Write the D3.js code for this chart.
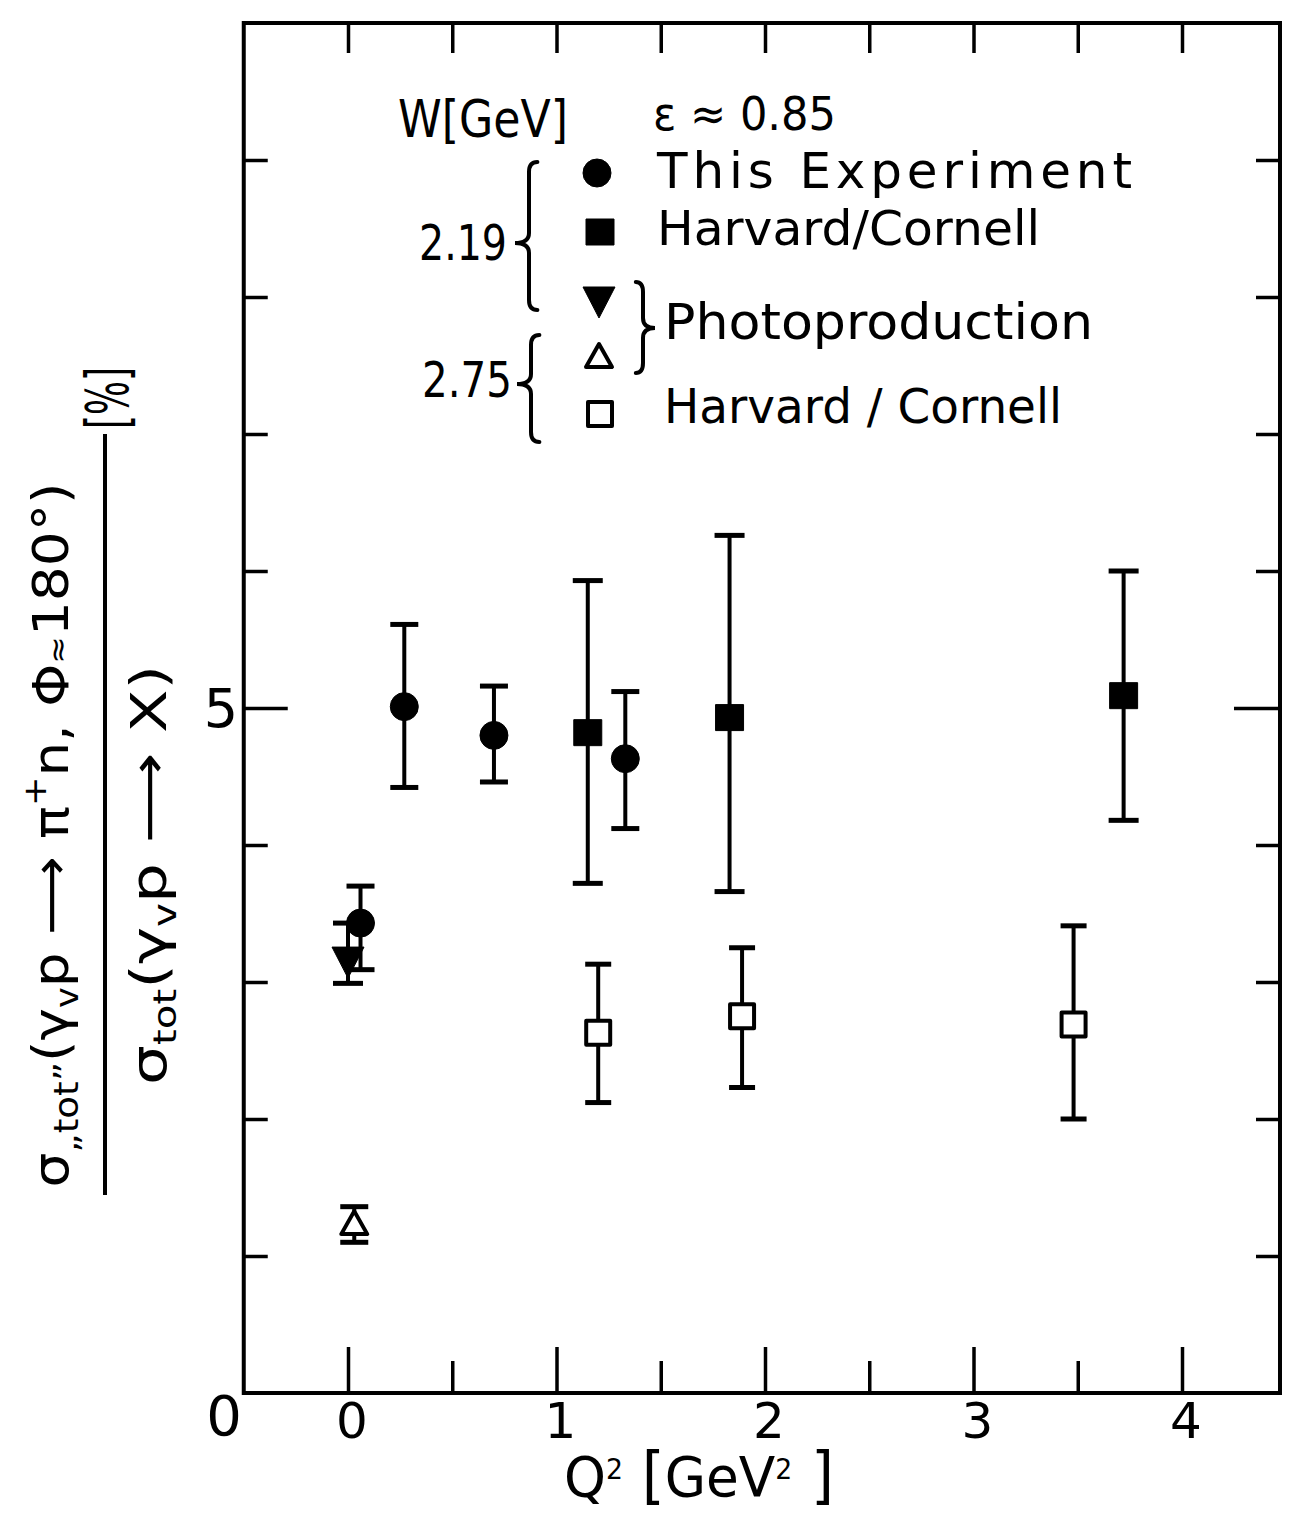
<!DOCTYPE html>
<html>
<head>
<meta charset="utf-8">
<script src="https://cdn.jsdelivr.net/npm/d3@7"></script>
<style>
  html, body { margin: 0; padding: 0; background: #fff; }
  svg { display: block; }
  text { font-family: "DejaVu Sans", sans-serif; fill: #000; }
</style>
</head>
<body>
<script>
// ---------------- DATA ----------------
// This Experiment (W = 2.19 GeV), filled circles
const thisQ2   = [0.06, 0.27, 0.70, 1.33];
const thisVal  = [3.43, 5.01, 4.80, 4.63];
const thisLo   = [3.09, 4.42, 4.46, 4.12];
const thisHi   = [3.70, 5.61, 5.16, 5.12];

// Harvard/Cornell (W = 2.19 GeV), filled squares
const hc219Q2  = [1.15, 1.83, 3.72];
const hc219Val = [4.82, 4.93, 5.09];
const hc219Lo  = [3.72, 3.66, 4.18];
const hc219Hi  = [5.93, 6.26, 6.00];

// Harvard/Cornell (W = 2.75 GeV), open squares
const hc275Q2  = [1.20, 1.89, 3.48];
const hc275Val = [2.63, 2.75, 2.69];
const hc275Lo  = [2.12, 2.23, 2.00];
const hc275Hi  = [3.13, 3.25, 3.41];

// Photoproduction W = 2.19 (filled down-triangle) and W = 2.75 (open up-triangle)
const photo219Q2  = [0.00];
const photo219Val = [3.16];
const photo219Lo  = [2.99];
const photo219Hi  = [3.43];

const photo275Q2  = [0.03];
const photo275Val = [1.24];
const photo275Lo  = [1.10];
const photo275Hi  = [1.36];

// Axis ticks
const xMajorTicks = [0, 1, 2, 3, 4];
const xMinorTicks = [0.5, 1.5, 2.5, 3.5];
const xTopTicks   = [0, 0.5, 1, 1.5, 2, 2.5, 3, 3.5, 4];
const yMinorTicks = [1, 2, 3, 4, 6, 7, 8, 9];
const yMajorTicks = [5];
const yTickLabels = ["0", "5"];

// ---------------- LAYOUT ----------------
const W = 1293, H = 1513;
const svg = d3.select("body").append("svg")
  .attr("width", W).attr("height", H)
  .attr("viewBox", `0 0 ${W} ${H}`);
svg.append("rect").attr("width", W).attr("height", H).attr("fill", "#fff");

const x = d3.scaleLinear().domain([0, 4]).range([348, 1182]);
const y = d3.scaleLinear().domain([0, 10]).range([1393, 23]);
const xMin = -0.5, xMax = 4.47, yMin = 0, yMax = 10;

const g = svg.append("g");

// frame
g.append("rect")
  .attr("x", x(xMin)).attr("y", y(yMax))
  .attr("width", x(xMax) - x(xMin)).attr("height", y(yMin) - y(yMax))
  .attr("fill", "none").attr("stroke", "#000").attr("stroke-width", 4);

function styleAxis(sel) {
  sel.select(".domain").remove();
  sel.selectAll(".tick line").attr("stroke", "#000").attr("stroke-width", 3.5);
  sel.selectAll(".tick text").remove();
}

// bottom axis
g.append("g").attr("transform", `translate(0,${y(yMin)})`)
  .call(d3.axisBottom(x).tickValues(xMajorTicks).tickSize(-46)).call(styleAxis);
g.append("g").attr("transform", `translate(0,${y(yMin)})`)
  .call(d3.axisBottom(x).tickValues(xMinorTicks).tickSize(-32)).call(styleAxis);
// top axis
g.append("g").attr("transform", `translate(0,${y(yMax)})`)
  .call(d3.axisTop(x).tickValues(xTopTicks).tickSize(-30)).call(styleAxis);
// left axis
g.append("g").attr("transform", `translate(${x(xMin)},0)`)
  .call(d3.axisLeft(y).tickValues(yMinorTicks).tickSize(-24)).call(styleAxis);
g.append("g").attr("transform", `translate(${x(xMin)},0)`)
  .call(d3.axisLeft(y).tickValues(yMajorTicks).tickSize(-44)).call(styleAxis);
// right axis
g.append("g").attr("transform", `translate(${x(xMax)},0)`)
  .call(d3.axisRight(y).tickValues(yMinorTicks).tickSize(-24)).call(styleAxis);
g.append("g").attr("transform", `translate(${x(xMax)},0)`)
  .call(d3.axisRight(y).tickValues(yMajorTicks).tickSize(-46)).call(styleAxis);

// x tick labels
g.selectAll(".xlab").data(xMajorTicks).enter().append("text")
  .attr("x", d => x(d) + 4).attr("y", 1438)
  .attr("text-anchor", "middle").attr("font-size", 50)
  .text(d => d);

// y tick labels
g.append("text").attr("x", 238).attr("y", y(5)).attr("dy", "0.36em")
  .attr("text-anchor", "end").attr("font-size", 54).text(yTickLabels[1]);
g.append("text").attr("x", 242).attr("y", y(0) + 22).attr("dy", "0.36em")
  .attr("text-anchor", "end").attr("font-size", 56).text(yTickLabels[0]);

// x axis label
const xl = g.append("text").attr("x", 564).attr("y", 1496).attr("font-size", 56)
  .attr("textLength", 270).attr("lengthAdjust", "spacingAndGlyphs");
xl.append("tspan").text("Q");
xl.append("tspan").attr("font-size", 28).attr("dy", -17).text("2");
xl.append("tspan").attr("dy", 17).attr("font-size", 62).text(" [");
xl.append("tspan").text("GeV");
xl.append("tspan").attr("font-size", 28).attr("dy", -17).text("2");
xl.append("tspan").attr("dy", 17).attr("font-size", 62).text("  ]");

// y axis label (fraction, rotated)
const yl = g.append("g");
const num = yl.append("text").attr("font-size", 50)
  .attr("transform", `translate(68,835) rotate(-90)`)
  .attr("text-anchor", "middle")
  .attr("textLength", 705).attr("lengthAdjust", "spacingAndGlyphs");
num.append("tspan").text("σ");
num.append("tspan").attr("font-size", 34).attr("dy", 10).text("\u201Etot\u201D");
num.append("tspan").attr("dy", -10).text("(γ");
num.append("tspan").attr("font-size", 32).attr("dy", 10).text("v");
num.append("tspan").attr("dy", -10).text("p ⟶ π");
num.append("tspan").attr("font-size", 32).attr("dy", -22).text("+");
num.append("tspan").attr("dy", 22).text("n, Φ");
num.append("tspan").attr("font-size", 30).text("≈");
num.append("tspan").text("180°)");

yl.append("text").attr("font-size", 58)
  .attr("transform", `translate(128,398) rotate(-90)`)
  .attr("text-anchor", "middle")
  .attr("textLength", 62).attr("lengthAdjust", "spacingAndGlyphs")
  .text("[%]");

yl.append("line").attr("x1", 105).attr("x2", 105).attr("y1", 434).attr("y2", 1195)
  .attr("stroke", "#000").attr("stroke-width", 4);

const den = yl.append("text").attr("font-size", 50)
  .attr("transform", `translate(166,875) rotate(-90)`)
  .attr("text-anchor", "middle")
  .attr("textLength", 420).attr("lengthAdjust", "spacingAndGlyphs");
den.append("tspan").text("σ");
den.append("tspan").attr("font-size", 32).attr("dy", 10).text("tot");
den.append("tspan").attr("dy", -10).text("(γ");
den.append("tspan").attr("font-size", 32).attr("dy", 10).text("v");
den.append("tspan").attr("dy", -10).text("p ⟶ X)");

// ---------------- MARKERS ----------------
function markerPath(type) {
  switch (type) {
    case "circle": return d3.symbol().type(d3.symbolCircle).size(Math.PI * 14 * 14)();
    case "square": return "M-14,-13H14V13H-14Z";
    case "osquare": return "M-12,-12H12V12H-12Z";
    case "tridown": return "M-16,-13H16L0,18Z";
    case "triup": return "M0,-12L13,11H-13Z";
  }
}
function markerStyle(sel, type) {
  const filled = (type === "circle" || type === "square" || type === "tridown");
  sel.attr("fill", filled ? "#000" : "#fff")
     .attr("stroke", "#000")
     .attr("stroke-width", filled ? 1 : 4)
     .attr("stroke-linejoin", "round");
}

function drawSeries(q2, val, lo, hi, type, capW) {
  const data = q2.map((q, i) => ({ q, v: val[i], lo: lo[i], hi: hi[i] }));
  const s = g.append("g");
  s.selectAll(".eb").data(data).enter().append("line")
    .attr("x1", d => x(d.q)).attr("x2", d => x(d.q))
    .attr("y1", d => y(d.lo)).attr("y2", d => y(d.hi))
    .attr("stroke", "#000").attr("stroke-width", 4);
  ["lo", "hi"].forEach(k => {
    s.selectAll(".cap" + k).data(data).enter().append("line")
      .attr("x1", d => x(d.q) - capW / 2).attr("x2", d => x(d.q) + capW / 2)
      .attr("y1", d => y(d[k])).attr("y2", d => y(d[k]))
      .attr("stroke", "#000").attr("stroke-width", 5);
  });
  s.selectAll(".mk").data(data).enter().append("path")
    .attr("transform", d => `translate(${x(d.q)},${y(d.v)})`)
    .attr("d", markerPath(type))
    .call(markerStyle, type);
}

drawSeries(hc275Q2, hc275Val, hc275Lo, hc275Hi, "osquare", 26);
drawSeries(hc219Q2, hc219Val, hc219Lo, hc219Hi, "square", 30);
drawSeries(photo219Q2, photo219Val, photo219Lo, photo219Hi, "tridown", 30);
drawSeries(thisQ2, thisVal, thisLo, thisHi, "circle", 28);
drawSeries(photo275Q2, photo275Val, photo275Lo, photo275Hi, "triup", 28);

// ---------------- LEGEND ----------------
const lg = g.append("g");
function ltext(str, xx, yy, size, len, adj) {
  return lg.append("text").attr("x", xx).attr("y", yy).attr("font-size", size)
    .attr("textLength", len).attr("lengthAdjust", adj || "spacingAndGlyphs").text(str);
}
ltext("W[GeV]", 398, 137, 52, 170);
ltext("ε ≈ 0.85", 653, 130, 46, 183);
ltext("This Experiment", 657, 188, 50, 475, "spacing");
ltext("Harvard/Cornell", 657, 245, 48, 383);
ltext("Photoproduction", 664, 339, 50, 429);
ltext("Harvard / Cornell", 664, 423, 48, 398);
ltext("2.19", 419, 260, 50, 88);
ltext("2.75", 422, 397, 50, 90);

[["circle", 597, 173], ["square", 600, 232], ["tridown", 599, 300], ["triup", 599, 356], ["osquare", 600, 414]]
  .forEach(([t, mx, my]) => {
    lg.append("path").attr("transform", `translate(${mx},${my})`)
      .attr("d", markerPath(t)).call(markerStyle, t);
  });

// braces
function brace(xs, yTop, yBot, yTip, dir, w) {
  // dir = -1: "{" tip pointing left; dir = +1: "}" tip pointing right
  const r = 10;
  const hx = xs - dir * w * 0.6; // hook end
  const tx = xs + dir * w;       // tip
  return `M${hx},${yTop} Q${xs},${yTop} ${xs},${yTop + r} L${xs},${yTip - r} Q${xs},${yTip} ${tx},${yTip}` +
         ` Q${xs},${yTip} ${xs},${yTip + r} L${xs},${yBot - r} Q${xs},${yBot} ${hx},${yBot}`;
}
[[529, 162, 310, 243, -1, 14], [531, 335, 442, 384, -1, 14], [643, 282, 373, 328, 1, 12]]
  .forEach(([xs, a, b, t, dir, w]) => {
    lg.append("path").attr("d", brace(xs, a, b, t, dir, w))
      .attr("fill", "none").attr("stroke", "#000").attr("stroke-width", 4)
      .attr("stroke-linecap", "round");
  });
</script>
</body>
</html>
